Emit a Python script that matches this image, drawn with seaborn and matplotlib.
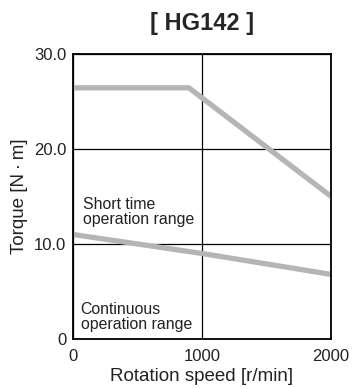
import seaborn as sns
import matplotlib.pyplot as plt
import pandas as pd

# torque characteristic values
speed_short = [0, 900, 2000]
torque_short = [26.4, 26.4, 15.0]
speed_cont = [0, 500, 1000, 1500, 2000]
torque_cont = [11.0, 10.0, 9.0, 7.9, 6.8]

x_ticks = [0, 1000, 2000]
y_ticks = [0, 10, 20, 30]
y_labels = ["0", "10.0", "20.0", "30.0"]

sns.set_theme(style="white")
plt.rcParams['font.family'] = ['Liberation Sans', 'DejaVu Sans']

short_df = pd.DataFrame({"speed": speed_short, "torque": torque_short})
cont_df = pd.DataFrame({"speed": speed_cont, "torque": torque_cont})

fig, ax = plt.subplots(figsize=(3.54, 3.88), dpi=100)
fig.subplots_adjust(left=0.205, right=0.935, top=0.862, bottom=0.126)

sns.lineplot(data=short_df, x="speed", y="torque", ax=ax, color="#b5b5b5",
             linewidth=3.8, solid_capstyle="butt")
sns.lineplot(data=cont_df, x="speed", y="torque", ax=ax, color="#b5b5b5",
             linewidth=3.8, solid_capstyle="butt")

ax.set_xlim(0, 2000)
ax.set_ylim(0, 30)
ax.set_xticks(x_ticks)
ax.set_xticklabels([str(t) for t in x_ticks])
ax.set_yticks(y_ticks)
ax.set_yticklabels(y_labels)
ax.tick_params(axis="both", labelsize=12, length=0, colors="#222222")
ax.tick_params(axis="x", pad=7)
ax.tick_params(axis="y", pad=4.5)
ax.grid(True, color="black", linewidth=0.9)
ax.set_axisbelow(True)
for spine in ax.spines.values():
    spine.set_color("black")
    spine.set_linewidth(1.3)

ax.set_xlabel("Rotation speed [r/min]", fontsize=13.5, labelpad=3, color="#222222")
ax.set_ylabel("Torque [N\u2009\u00b7\u2009m]", fontsize=13.5, labelpad=4, color="#222222")
ax.set_title("[ HG142 ]", fontsize=17, fontweight="bold", pad=17)

ax.text(77, 12.1, "Short time\noperation range", fontsize=11.4,
        color="#222222", linespacing=1.0)
ax.text(62, 1.05, "Continuous\noperation range", fontsize=11.4,
        color="#222222", linespacing=1.0)

plt.savefig("out.png", dpi=100)
